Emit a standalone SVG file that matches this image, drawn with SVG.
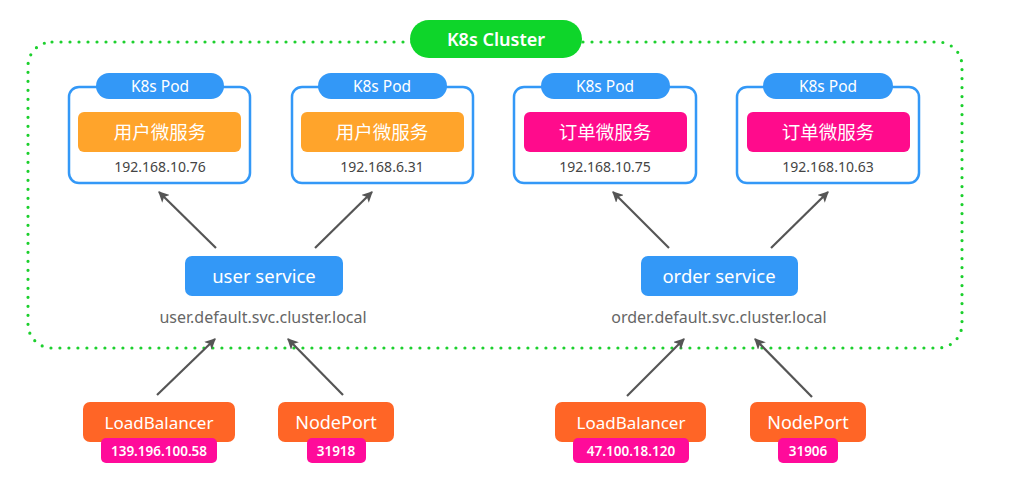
<svg xmlns="http://www.w3.org/2000/svg" width="1011" height="484" viewBox="0 0 1011 484">
<style>
.lat{font-family:"Noto Sans","Open Sans","DejaVu Sans",sans-serif}
.cjk{font-family:"Noto Sans CJK SC","Noto Sans",sans-serif}
.pod{fill:#fff;stroke:#3398F7;stroke-width:2.5}
.tab{fill:#3398F7}
.user{fill:#FFA42B}
.order{fill:#FF0B8C}
.svc{fill:#3398F7}
.ext{fill:#FF6526}
.tag{fill:#FF0B9A}
.w{fill:#fff;text-anchor:middle}
.ip{fill:#444;text-anchor:middle;font-size:14px}
.dom{fill:#666;text-anchor:middle;font-size:16px}
.arr{stroke:#555;stroke-width:2.2;fill:none;marker-end:url(#ah)}
</style>
<defs>
<marker id="ah" viewBox="0 0 10 10" refX="9" refY="5" markerWidth="5" markerHeight="5" orient="auto" markerUnits="strokeWidth">
<path d="M0,0 L10,5 L0,10 L2.5,5 z" fill="#555"/>
</marker>
</defs>
<rect width="1011" height="484" fill="#fff"/>

<g id="cluster">
<rect x="28" y="42" width="934" height="306" rx="24" fill="none" stroke="#1DD02E" stroke-width="3.2" stroke-dasharray="0 9" stroke-linecap="round"/>
<rect x="410" y="20" width="172" height="38" rx="19" fill="#0ED52A"/>
<text class="lat w" x="496" y="46" font-size="18" font-weight="600">K8s Cluster</text>
</g>

<g id="pod1">
<rect class="pod" x="69" y="87" width="181" height="96" rx="10"/>
<rect class="tab" x="96" y="73" width="128" height="26" rx="13"/>
<text class="lat w" x="160" y="91.5" font-size="15.5">K8s Pod</text>
<rect class="user" x="78" y="112" width="163" height="40" rx="6"/>
<text class="cjk w" x="160" y="139" font-size="18.5">用户微服务</text>
<text class="lat ip" x="160" y="172">192.168.10.76</text>
</g>

<g id="pod2">
<rect class="pod" x="292" y="87" width="181" height="96" rx="10"/>
<rect class="tab" x="318" y="73" width="129" height="26" rx="13"/>
<text class="lat w" x="382" y="91.5" font-size="15.5">K8s Pod</text>
<rect class="user" x="301" y="112" width="163" height="40" rx="6"/>
<text class="cjk w" x="382" y="139" font-size="18.5">用户微服务</text>
<text class="lat ip" x="382" y="172">192.168.6.31</text>
</g>

<g id="pod3">
<rect class="pod" x="514" y="87" width="182" height="96" rx="10"/>
<rect class="tab" x="541" y="73" width="129" height="26" rx="13"/>
<text class="lat w" x="605" y="91.5" font-size="15.5">K8s Pod</text>
<rect class="order" x="524" y="112" width="163" height="40" rx="6"/>
<text class="cjk w" x="605" y="139" font-size="18.5">订单微服务</text>
<text class="lat ip" x="605" y="172">192.168.10.75</text>
</g>

<g id="pod4">
<rect class="pod" x="737" y="87" width="182" height="96" rx="10"/>
<rect class="tab" x="763" y="73" width="130" height="26" rx="13"/>
<text class="lat w" x="828" y="91.5" font-size="15.5">K8s Pod</text>
<rect class="order" x="747" y="112" width="163" height="40" rx="6"/>
<text class="cjk w" x="828" y="139" font-size="18.5">订单微服务</text>
<text class="lat ip" x="828" y="172">192.168.10.63</text>
</g>

<g id="user-service">
<rect class="svc" x="185" y="256" width="158" height="40" rx="7"/>
<text class="lat w" x="264" y="283" font-size="18.5">user service</text>
<text class="lat dom" x="263" y="323">user.default.svc.cluster.local</text>
</g>

<g id="order-service">
<rect class="svc" x="641" y="256" width="157" height="40" rx="7"/>
<text class="lat w" x="719" y="283" font-size="18.5">order service</text>
<text class="lat dom" x="719" y="323">order.default.svc.cluster.local</text>
</g>

<g id="lb-user">
<rect class="ext" x="83" y="402" width="152" height="40" rx="7"/>
<text class="lat w" x="159" y="429" font-size="17">LoadBalancer</text>
<rect class="tag" x="101" y="438" width="116" height="25" rx="5"/>
<text class="lat w" x="159" y="456" font-size="13.5" font-weight="600">139.196.100.58</text>
</g>

<g id="np-user">
<rect class="ext" x="278" y="402" width="116" height="40" rx="7"/>
<text class="lat w" x="336" y="429" font-size="18">NodePort</text>
<rect class="tag" x="307" y="438" width="59" height="25" rx="5"/>
<text class="lat w" x="336" y="456" font-size="13.5" font-weight="600">31918</text>
</g>

<g id="lb-order">
<rect class="ext" x="555" y="402" width="151" height="40" rx="7"/>
<text class="lat w" x="631" y="429" font-size="17">LoadBalancer</text>
<rect class="tag" x="573" y="438" width="116" height="25" rx="5"/>
<text class="lat w" x="631" y="456" font-size="13.5" font-weight="600">47.100.18.120</text>
</g>

<g id="np-order">
<rect class="ext" x="750" y="402" width="116" height="40" rx="7"/>
<text class="lat w" x="808" y="429" font-size="18">NodePort</text>
<rect class="tag" x="778" y="438" width="60" height="25" rx="5"/>
<text class="lat w" x="808" y="456" font-size="13.5" font-weight="600">31906</text>
</g>

<g id="connectors">
<line class="arr" x1="216" y1="248" x2="159" y2="192"/>
<line class="arr" x1="315" y1="248" x2="372" y2="192"/>
<line class="arr" x1="669" y1="248" x2="613" y2="192"/>
<line class="arr" x1="771" y1="248" x2="828" y2="192"/>
<line class="arr" x1="157" y1="395" x2="215" y2="339"/>
<line class="arr" x1="343" y1="395" x2="288" y2="339"/>
<line class="arr" x1="627" y1="396" x2="684" y2="339"/>
<line class="arr" x1="812" y1="397" x2="755" y2="339"/>
</g>
</svg>
